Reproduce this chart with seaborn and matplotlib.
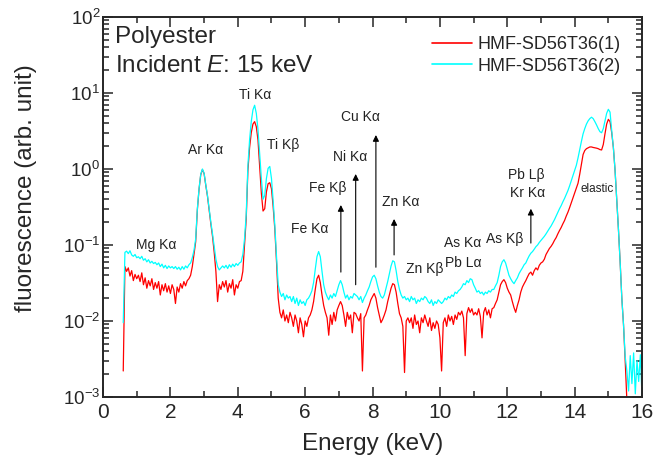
import numpy as np
import pandas as pd
import seaborn as sns
import matplotlib
matplotlib.use("Agg")
import matplotlib.pyplot as plt
from matplotlib.ticker import MultipleLocator, LogLocator, NullFormatter

# energy channels (keV), 0.05 keV bins
energy_kev = np.round(np.arange(0.60, 16.001, 0.05), 2)

# sample (1) - red trace
fluor_1 = [
    0.0022, 0.052, 0.045, 0.050, 0.039, 0.046, 0.034, 0.041, 0.036, 0.040,
    0.033, 0.043, 0.030, 0.037, 0.027, 0.034, 0.029, 0.036, 0.026, 0.032,
    0.027, 0.033, 0.022, 0.030, 0.025, 0.031, 0.024, 0.029, 0.023, 0.030,
    0.026, 0.017, 0.028, 0.024, 0.031, 0.027, 0.033, 0.029, 0.034, 0.036,
    0.040, 0.052, 0.075, 0.11, 0.29, 0.54, 0.84, 0.98, 0.87, 0.61,
    0.44, 0.29, 0.19, 0.13, 0.080, 0.045, 0.018, 0.030, 0.026, 0.033,
    0.028, 0.034, 0.024, 0.031, 0.027, 0.035, 0.022, 0.030, 0.027, 0.033,
    0.034, 0.045, 0.10, 0.22, 0.95, 1.9, 3.0, 3.9, 4.2, 3.6,
    2.4, 1.1, 0.48, 0.28, 0.30, 0.50, 0.64, 0.66, 0.55, 0.32,
    0.16, 0.06, 0.020, 0.013, 0.011, 0.014, 0.010, 0.012, 0.0095, 0.013,
    0.011, 0.0085, 0.012, 0.010, 0.0070, 0.011, 0.0090, 0.0062, 0.010, 0.0085,
    0.011, 0.012, 0.014, 0.018, 0.026, 0.036, 0.040, 0.032, 0.022, 0.016,
    0.013, 0.011, 0.0065, 0.012, 0.0090, 0.013, 0.010, 0.014, 0.016, 0.018,
    0.016, 0.012, 0.0085, 0.013, 0.0105, 0.012, 0.0070, 0.013, 0.0125, 0.011,
    0.010, 0.0125, 0.0022, 0.011, 0.012, 0.014, 0.016, 0.019, 0.021, 0.023,
    0.020, 0.015, 0.012, 0.0095, 0.0105, 0.012, 0.014, 0.018, 0.022, 0.027,
    0.031, 0.030, 0.024, 0.017, 0.0125, 0.011, 0.0085, 0.0021, 0.010, 0.011,
    0.0095, 0.011, 0.0080, 0.012, 0.0090, 0.010, 0.0070, 0.011, 0.0095, 0.012,
    0.010, 0.0085, 0.011, 0.0075, 0.0095, 0.0080, 0.010, 0.0090, 0.0060, 0.0022,
    0.0095, 0.011, 0.0085, 0.012, 0.010, 0.0115, 0.0090, 0.012, 0.0105, 0.013,
    0.012, 0.0135, 0.011, 0.0035, 0.0125, 0.015, 0.013, 0.0145, 0.012, 0.013,
    0.012, 0.0145, 0.0115, 0.0060, 0.013, 0.015, 0.012, 0.014, 0.011, 0.0145,
    0.015, 0.017, 0.019, 0.024, 0.030, 0.033, 0.035, 0.032, 0.027, 0.024,
    0.022, 0.018, 0.015, 0.013, 0.016, 0.019, 0.024, 0.028, 0.031, 0.034,
    0.038, 0.042, 0.044, 0.040, 0.046, 0.050, 0.047, 0.054, 0.058, 0.060,
    0.065, 0.075, 0.082, 0.090, 0.096, 0.104, 0.115, 0.125, 0.140, 0.155,
    0.17, 0.19, 0.21, 0.24, 0.27, 0.31, 0.36, 0.42, 0.49, 0.56,
    0.65, 0.85, 1.15, 1.55, 1.75, 1.85, 1.90, 1.95, 1.95, 1.92,
    1.90, 1.88, 1.85, 1.80, 1.78, 2.1, 2.9, 3.9, 4.5, 4.2,
    3.0, 1.9, 0.95, 0.40, 0.16, 0.06, 0.020, 0.0090, 0.0030, 0.0009,
    np.nan, np.nan, np.nan, np.nan, np.nan, np.nan, np.nan, np.nan, np.nan,
]

# sample (2) - cyan trace
fluor_2 = [
    0.0095, 0.080, 0.083, 0.077, 0.084, 0.074, 0.071, 0.075, 0.068, 0.070,
    0.066, 0.071, 0.063, 0.066, 0.060, 0.064, 0.058, 0.061, 0.057, 0.059,
    0.055, 0.058, 0.052, 0.056, 0.050, 0.054, 0.049, 0.053, 0.050, 0.052,
    0.049, 0.052, 0.048, 0.051, 0.047, 0.052, 0.048, 0.053, 0.050, 0.055,
    0.058, 0.068, 0.085, 0.12, 0.30, 0.55, 0.85, 1.00, 0.88, 0.62,
    0.45, 0.30, 0.20, 0.14, 0.095, 0.065, 0.052, 0.047, 0.050, 0.053,
    0.050, 0.054, 0.049, 0.055, 0.051, 0.056, 0.052, 0.057, 0.054, 0.058,
    0.060, 0.075, 0.12, 0.25, 1.1, 2.4, 4.2, 6.0, 6.9, 5.4,
    3.3, 1.6, 0.75, 0.40, 0.45, 0.75, 1.02, 1.08, 0.75, 0.38,
    0.18, 0.07, 0.030, 0.024, 0.021, 0.023, 0.019, 0.022, 0.020, 0.021,
    0.018, 0.021, 0.017, 0.020, 0.016, 0.019, 0.017, 0.018, 0.016, 0.019,
    0.020, 0.022, 0.025, 0.032, 0.048, 0.070, 0.082, 0.070, 0.045, 0.030,
    0.024, 0.021, 0.019, 0.022, 0.020, 0.023, 0.021, 0.025, 0.030, 0.034,
    0.030, 0.024, 0.020, 0.022, 0.019, 0.021, 0.020, 0.023, 0.022, 0.021,
    0.019, 0.021, 0.0175, 0.020, 0.022, 0.025, 0.028, 0.033, 0.038, 0.040,
    0.036, 0.029, 0.024, 0.021, 0.020, 0.022, 0.027, 0.033, 0.042, 0.053,
    0.062, 0.060, 0.046, 0.033, 0.026, 0.022, 0.020, 0.021, 0.019, 0.020,
    0.018, 0.021, 0.019, 0.020, 0.017, 0.019, 0.018, 0.020, 0.019, 0.021,
    0.020, 0.018, 0.017, 0.019, 0.016, 0.018, 0.017, 0.019, 0.018, 0.017,
    0.018, 0.020, 0.019, 0.021, 0.020, 0.022, 0.021, 0.024, 0.023, 0.025,
    0.026, 0.028, 0.031, 0.030, 0.034, 0.032, 0.036, 0.035, 0.030, 0.027,
    0.024, 0.025, 0.023, 0.024, 0.022, 0.024, 0.023, 0.025, 0.024, 0.026,
    0.026, 0.029, 0.032, 0.040, 0.052, 0.060, 0.064, 0.058, 0.048, 0.040,
    0.036, 0.033, 0.031, 0.034, 0.037, 0.042, 0.046, 0.050, 0.055, 0.058,
    0.065, 0.072, 0.078, 0.082, 0.088, 0.095, 0.100, 0.108, 0.115, 0.122,
    0.130, 0.140, 0.152, 0.165, 0.178, 0.195, 0.215, 0.24, 0.27, 0.30,
    0.33, 0.37, 0.41, 0.46, 0.52, 0.60, 0.70, 0.82, 0.96, 1.12,
    1.4, 1.8, 2.3, 2.9, 3.4, 3.9, 4.3, 4.6, 4.8, 4.6,
    4.2, 3.8, 3.4, 3.1, 3.0, 3.4, 4.3, 5.4, 6.1, 5.6,
    3.2, 1.9, 0.95, 0.40, 0.16, 0.06, 0.020, 0.0090, 0.0034, 0.0022,
    0.0012, 0.0035, 0.0015, 0.0038, 0.0011, 0.0030, 0.0016, 0.0036, 0.0010,
]

sample_names = ["HMF-SD56T36(1)", "HMF-SD56T36(2)"]
sample_colors = ["#ff0000", "#00ffff"]

# peak labels: text, energy, height
peak_labels = ["Mg Kα", "Ar Kα", "Ti Kα", "Ti Kβ", "Fe Kα", "Fe Kβ", "Ni Kα",
               "Cu Kα", "Zn Kα", "Zn Kβ", "Pb Lα", "As Kα", "As Kβ",
               "Pb Lβ", "Kr Kα"]
peak_label_e = [1.57, 3.03, 4.51, 5.35, 6.12, 6.68, 7.34,
                7.63, 8.85, 9.54, 10.69, 10.66, 11.91, 12.56, 12.59]
peak_label_y = [0.10, 1.78, 9.4, 2.07, 0.163, 0.56, 1.44,
                4.83, 0.37, 0.048, 0.058, 0.106, 0.12, 0.83, 0.48]

# arrows marking line positions: energy, tail, head
arrow_e = [7.06, 7.50, 8.10, 8.64, 12.70]
arrow_tail = [0.044, 0.030, 0.051, 0.074, 0.106]
arrow_head = [0.336, 0.86, 2.8, 0.22, 0.30]

df = pd.DataFrame({
    "energy": np.concatenate([energy_kev, energy_kev]),
    "fluorescence": np.concatenate([fluor_1, fluor_2]),
    "sample": np.repeat(sample_names, len(energy_kev)),
})
assert len(fluor_1) == len(energy_kev) == len(fluor_2)

sns.set_style("ticks")
plt.rcParams["font.family"] = ["Liberation Sans", "DejaVu Sans"]
plt.rcParams["mathtext.fontset"] = "custom"
plt.rcParams["mathtext.rm"] = "Liberation Sans"
plt.rcParams["mathtext.it"] = "Liberation Sans:italic"

fig = plt.figure(figsize=(6.55, 4.72), dpi=100)
ax = fig.add_axes([0.1573, 0.1589, 0.8229, 0.8051])

sns.lineplot(data=df.dropna(), x="energy", y="fluorescence", hue="sample",
             palette=dict(zip(sample_names, sample_colors)), estimator=None,
             sort=False, lw=0.9, ax=ax)

ax.set_yscale("log")
ax.set_xlim(0, 16)
ax.set_ylim(1e-3, 1e2)

ax.xaxis.set_major_locator(MultipleLocator(2))
ax.xaxis.set_minor_locator(MultipleLocator(1))
ax.yaxis.set_major_locator(LogLocator(base=10, numticks=10))
ax.yaxis.set_minor_locator(LogLocator(base=10, subs=np.arange(2, 10), numticks=10))
ax.yaxis.set_minor_formatter(NullFormatter())

ax.tick_params(which="both", direction="in", top=True, right=True, width=1.1)
ax.tick_params(which="major", length=7)
ax.tick_params(which="minor", length=4)
ax.tick_params(axis="x", labelsize=15, pad=4.5)
ax.tick_params(axis="y", labelsize=13.5, pad=2)
for sp in ax.spines.values():
    sp.set_linewidth(1.4)

ax.set_xlabel("Energy (keV)", fontsize=17.5, labelpad=8)
ax.set_ylabel("fluorescence (arb. unit)", fontsize=17.5)
ax.yaxis.set_label_coords(-0.122, 0.55)

for lab, e, y in zip(peak_labels, peak_label_e, peak_label_y):
    ax.text(e, y, lab, ha="center", va="center", fontsize=10, color="#222222")
ax.text(14.67, 0.55, "elastic", ha="center", va="center", fontsize=8.5, color="#222222")

for e, t, h in zip(arrow_e, arrow_tail, arrow_head):
    ax.annotate("", xy=(e, h), xytext=(e, t),
                arrowprops=dict(arrowstyle="-|>", color="black", lw=0.8,
                                mutation_scale=9, shrinkA=0, shrinkB=0))

ax.text(0.022, 0.931, "Polyester", transform=ax.transAxes, fontsize=17.5,
        va="baseline")
ax.text(0.022, 0.856, "Incident $\\mathit{E}$: 15 keV", transform=ax.transAxes,
        fontsize=17.5, va="baseline")

handles, labels = ax.get_legend_handles_labels()
leg = ax.legend(handles, labels, loc="upper right", frameon=False, fontsize=13,
                handlelength=2.2, handletextpad=0.35, labelspacing=0.25,
                borderpad=0, borderaxespad=0,
                bbox_to_anchor=(621 / 655, (472 - 36) / 472),
                bbox_transform=fig.transFigure)
for ln in leg.get_lines():
    ln.set_linewidth(1.2)

fig.savefig("out.png", dpi=100)
